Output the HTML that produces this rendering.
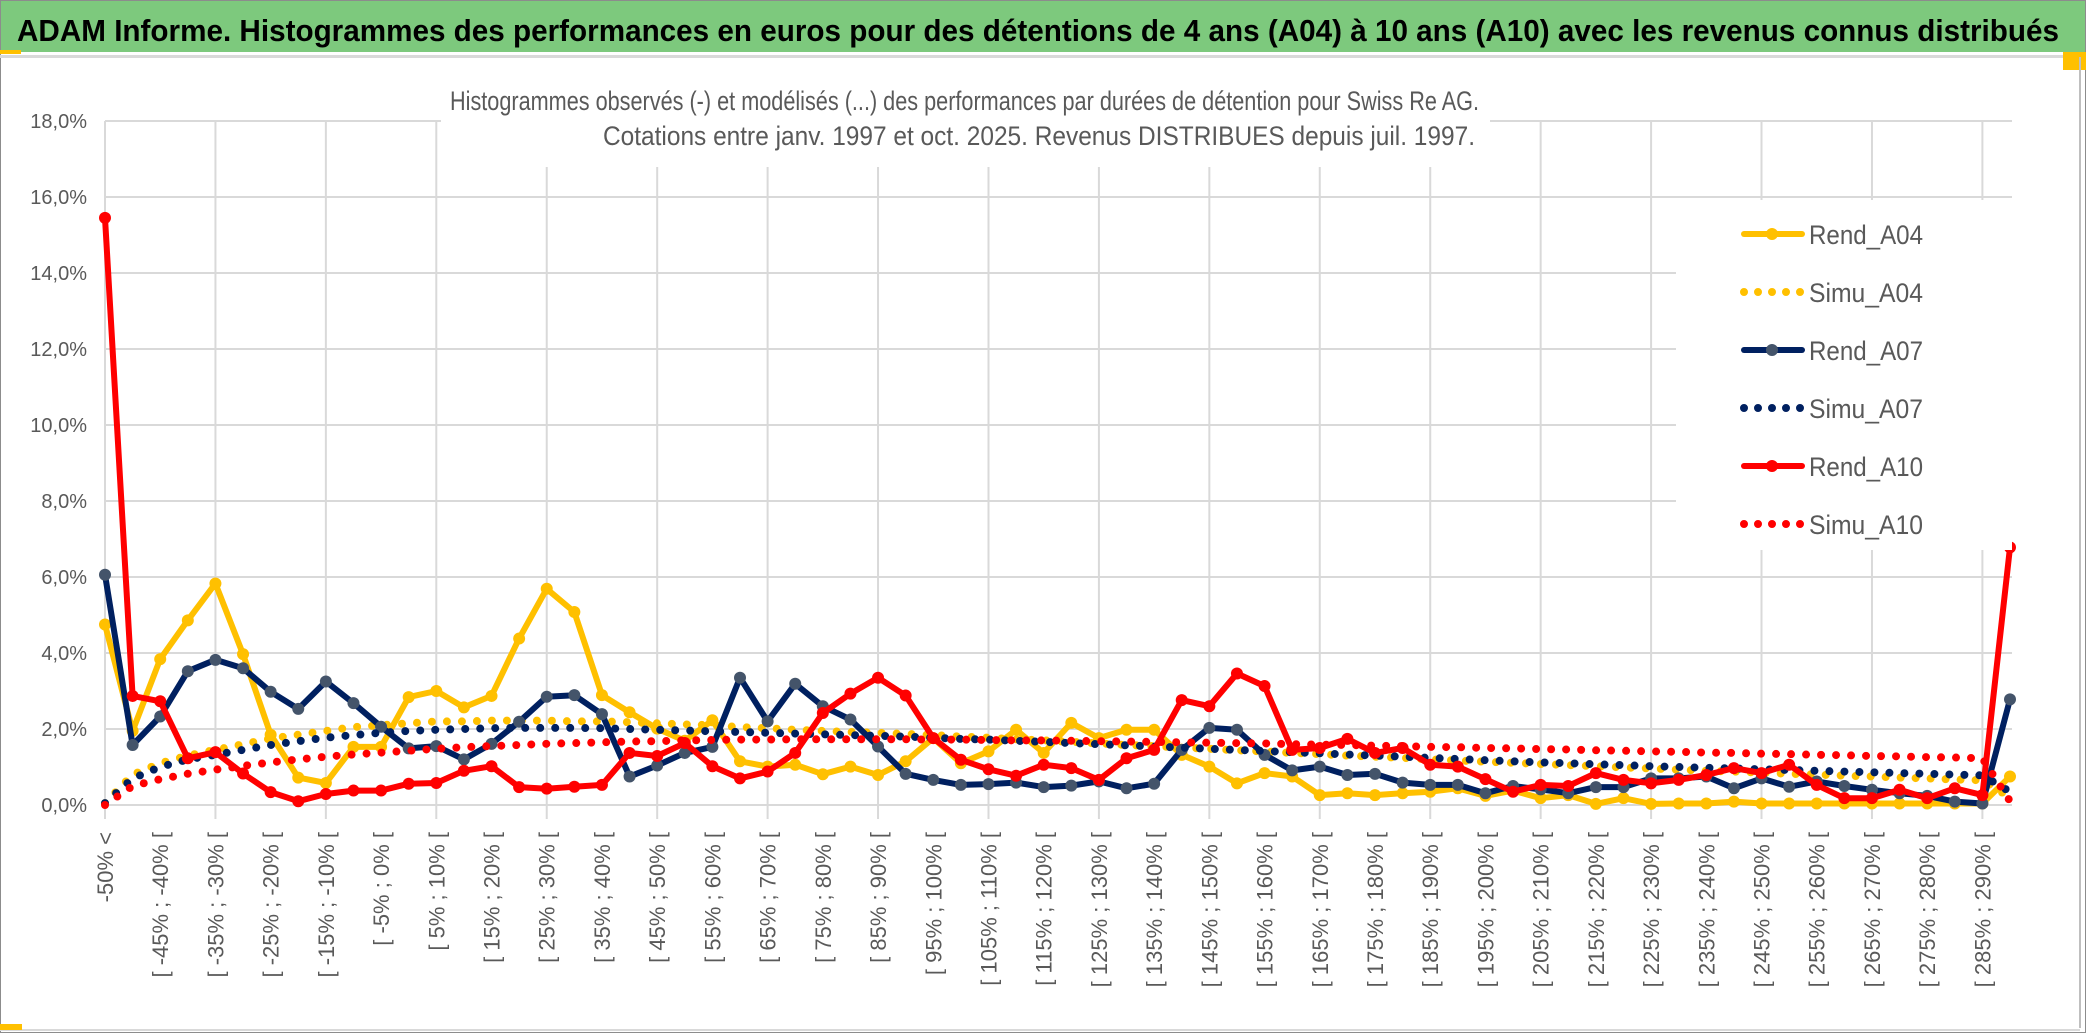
<!DOCTYPE html>
<html><head><meta charset="utf-8">
<style>
html,body{margin:0;padding:0;background:#fff;}
svg{display:block;font-family:"Liberation Sans",sans-serif;}
</style></head>
<body>
<svg id="chart" width="2086" height="1033" viewBox="0 0 2086 1033" xmlns="http://www.w3.org/2000/svg">
  <rect x="0" y="0" width="2086" height="1033" fill="#ffffff"/>
  <rect x="0.5" y="0.5" width="2085" height="1032" fill="none" stroke="#8c8c8c" stroke-width="1"/>
  <rect x="1" y="1" width="2084" height="51" fill="#7dc97d"/>
  <rect x="0" y="50" width="21" height="4" fill="#ffc000"/>
  <rect x="0" y="55" width="2080" height="3" fill="#d9d9d9"/>
  <rect x="2063" y="52" width="23" height="18" fill="#ffc000"/>
  <line x1="2080" y1="57" x2="2080" y2="1028" stroke="#bfbfbf" stroke-width="2"/>
  <line x1="0" y1="1030" x2="2080" y2="1030" stroke="#d9d9d9" stroke-width="2"/>
  <rect x="0" y="1024" width="22" height="6" fill="#ffc000"/>
  <text x="17" y="41" font-size="31" font-weight="bold" fill="#000" textLength="2042" lengthAdjust="spacingAndGlyphs">ADAM Informe. Histogrammes des performances en euros pour des détentions de 4 ans (A04) à 10 ans (A10) avec les revenus connus distribués</text>
  <g id="grid"></g>
  <rect x="441" y="80" width="1049" height="87" fill="#fff"/>
  <text x="450" y="110" font-size="27" fill="#595959" textLength="1029" lengthAdjust="spacingAndGlyphs">Histogrammes observés (-) et modélisés (...) des performances par durées de détention pour Swiss Re AG.</text>
  <text x="603" y="145" font-size="27" fill="#595959" textLength="872" lengthAdjust="spacingAndGlyphs">Cotations entre janv. 1997 et oct. 2025. Revenus DISTRIBUES depuis juil. 1997.</text>
  <g id="yaxis"></g>
  <g id="xaxis"></g>
  <g id="series"></g>
  <g id="legend"></g>
</svg>
<script>
const tickLabels = ["-50% <","[ -45% ; -40% [","[ -35% ; -30% [","[ -25% ; -20% [","[ -15% ; -10% [","[ -5% ; 0% [","[ 5% ; 10% [","[ 15% ; 20% [","[ 25% ; 30% [","[ 35% ; 40% [","[ 45% ; 50% [","[ 55% ; 60% [","[ 65% ; 70% [","[ 75% ; 80% [","[ 85% ; 90% [","[ 95% ; 100% [","[ 105% ; 110% [","[ 115% ; 120% [","[ 125% ; 130% [","[ 135% ; 140% [","[ 145% ; 150% [","[ 155% ; 160% [","[ 165% ; 170% [","[ 175% ; 180% [","[ 185% ; 190% [","[ 195% ; 200% [","[ 205% ; 210% [","[ 215% ; 220% [","[ 225% ; 230% [","[ 235% ; 240% [","[ 245% ; 250% [","[ 255% ; 260% [","[ 265% ; 270% [","[ 275% ; 280% [","[ 285% ; 290% ["];
const yTicks = [0,2,4,6,8,10,12,14,16,18];
const seriesNames = ["Rend_A04","Simu_A04","Rend_A07","Simu_A07","Rend_A10","Simu_A10"];
const rendA04 = [4.75,1.95,3.84,4.86,5.83,3.97,1.85,0.72,0.58,1.53,1.53,2.84,3.0,2.57,2.87,4.38,5.69,5.08,2.89,2.44,2.01,1.69,2.23,1.15,1.01,1.06,0.81,1.01,0.79,1.15,1.76,1.1,1.41,1.98,1.37,2.16,1.76,1.98,1.98,1.32,1.01,0.57,0.84,0.75,0.26,0.31,0.26,0.31,0.35,0.44,0.24,0.38,0.18,0.26,0.03,0.18,0.03,0.04,0.04,0.09,0.04,0.04,0.04,0.04,0.04,0.04,0.04,0.04,0.04,0.75];
const simuA04 = [0.05,0.8,1.1,1.3,1.45,1.6,1.75,1.85,1.95,2.05,2.1,2.15,2.2,2.2,2.22,2.22,2.22,2.2,2.2,2.18,2.15,2.12,2.1,2.05,2.02,1.98,1.95,1.92,1.9,1.87,1.84,1.8,1.77,1.73,1.7,1.66,1.62,1.58,1.55,1.51,1.48,1.44,1.41,1.37,1.34,1.3,1.27,1.24,1.2,1.17,1.14,1.11,1.08,1.05,1.02,0.99,0.96,0.93,0.9,0.88,0.85,0.82,0.8,0.77,0.75,0.72,0.7,0.67,0.65,0.2];
const rendA07 = [6.06,1.58,2.33,3.52,3.82,3.6,2.98,2.53,3.25,2.68,2.06,1.49,1.55,1.2,1.61,2.19,2.85,2.89,2.39,0.75,1.04,1.37,1.53,3.35,2.2,3.19,2.6,2.25,1.54,0.82,0.66,0.53,0.55,0.59,0.47,0.51,0.62,0.44,0.56,1.45,2.03,1.98,1.32,0.91,1.01,0.79,0.82,0.59,0.53,0.53,0.31,0.5,0.41,0.31,0.47,0.47,0.7,0.7,0.75,0.44,0.7,0.48,0.62,0.5,0.4,0.31,0.24,0.09,0.04,2.78];
const simuA07 = [0.05,0.7,1.0,1.2,1.32,1.45,1.58,1.68,1.77,1.84,1.9,1.95,1.98,2.0,2.02,2.03,2.03,2.03,2.02,2.0,1.98,1.96,1.94,1.92,1.9,1.88,1.86,1.84,1.82,1.8,1.77,1.74,1.72,1.69,1.66,1.63,1.6,1.57,1.54,1.51,1.48,1.45,1.42,1.39,1.36,1.33,1.3,1.27,1.24,1.21,1.18,1.15,1.12,1.1,1.07,1.05,1.02,1.0,0.98,0.96,0.94,0.92,0.9,0.88,0.86,0.84,0.82,0.8,0.78,0.35];
const rendA10 = [15.45,2.87,2.73,1.23,1.39,0.83,0.34,0.1,0.29,0.38,0.38,0.56,0.58,0.9,1.02,0.47,0.43,0.48,0.53,1.37,1.29,1.63,1.02,0.7,0.88,1.37,2.42,2.93,3.35,2.88,1.76,1.19,0.94,0.77,1.06,0.97,0.66,1.23,1.45,2.76,2.6,3.46,3.13,1.45,1.5,1.74,1.37,1.5,1.06,1.01,0.68,0.35,0.53,0.5,0.84,0.66,0.57,0.66,0.79,0.97,0.84,1.06,0.53,0.18,0.18,0.4,0.18,0.44,0.26,6.78];
const simuA10 = [0.0,0.5,0.68,0.82,0.93,1.03,1.12,1.2,1.27,1.33,1.38,1.43,1.48,1.52,1.55,1.58,1.61,1.63,1.65,1.67,1.68,1.7,1.71,1.72,1.72,1.73,1.73,1.73,1.73,1.73,1.72,1.72,1.71,1.7,1.7,1.69,1.68,1.67,1.66,1.65,1.64,1.63,1.62,1.6,1.59,1.58,1.56,1.55,1.53,1.52,1.5,1.49,1.47,1.46,1.44,1.43,1.41,1.4,1.38,1.37,1.35,1.34,1.32,1.31,1.29,1.28,1.26,1.25,1.23,0.1];

const NS = "http://www.w3.org/2000/svg";
const X0 = 105, X1 = 2010, Y0 = 805, Y18 = 121;
const nCat = rendA04.length;
function xPos(i){ return X0 + i*(X1-X0)/(nCat-1); }
function yPos(v){ return Y0 - v*(Y0-Y18)/18; }
function mk(tag, attrs, parent){ const e=document.createElementNS(NS,tag); for(const k in attrs) e.setAttribute(k,attrs[k]); parent.appendChild(e); return e; }

const grid = document.getElementById('grid');
yTicks.forEach(t=>{
  const l = mk('line',{x1:X0,x2:X1+2,y1:yPos(t),y2:yPos(t),stroke:'#d9d9d9','stroke-width':2},grid);
  
  
});
for(let i=0;i<nCat;i+=4){
  const l = mk('line',{x1:xPos(i),x2:xPos(i),y1:Y18,y2:Y0+14,stroke:'#d9d9d9','stroke-width':2},grid);
  
  
}
const ya = document.getElementById('yaxis');
yTicks.forEach(t=>{
  const tx = mk('text',{x:87,y:yPos(t)+7,'font-size':20,'text-anchor':'end',fill:'#595959'},ya);
  tx.textContent = t.toFixed(1).replace('.',',')+'%';
  
  
});
const xa = document.getElementById('xaxis');
tickLabels.forEach((lab,k)=>{
  const x = xPos(k*2)+8, y = 832;
  const tx = mk('text',{x:x,y:y,'font-size':22,'text-anchor':'end',fill:'#595959',transform:`rotate(-90 ${x} ${y})`},xa);
  tx.textContent = lab;
  
  
});
const sg = document.getElementById('series');
function pts(arr){ return arr.map((v,i)=>xPos(i).toFixed(1)+','+yPos(v).toFixed(1)).join(' '); }
function solid(arr,color,mcolor,name){
  const g = mk('g',{},sg);
  
  
  const p = mk('polyline',{points:pts(arr),fill:'none',stroke:color,'stroke-width':6,'stroke-linejoin':'round'},g);
  
  
  arr.forEach((v,i)=>{
    const c = mk('circle',{cx:xPos(i),cy:yPos(v),r:6,fill:mcolor},g);
    
    
  });
}
function dotted(arr,color,name){
  const p = mk('polyline',{points:pts(arr),fill:'none',stroke:color,'stroke-width':8,'stroke-linecap':'round','stroke-dasharray':'0 15'},sg);
  
  
}
solid(rendA04,'#ffc000','#ffc000','rend-a04');
dotted(simuA04,'#ffc000','simu-a04');
solid(rendA07,'#002060','#44546a','rend-a07');
dotted(simuA07,'#002060','simu-a07');
solid(rendA10,'#ff0000','#ff0000','rend-a10');
dotted(simuA10,'#ff0000','simu-a10');

const lg = document.getElementById('legend');
mk('rect',{x:1676,y:200,width:336,height:350,fill:'#fff'},lg);
const legY = [234,292,350,408,466,524];
const legCol = ['#ffc000','#ffc000','#002060','#002060','#ff0000','#ff0000'];
const legMk = ['#ffc000',null,'#44546a',null,'#ff0000',null];
seriesNames.forEach((n,i)=>{
  const g = mk('g',{},lg);
  
  
  const y = legY[i];
  if(legMk[i]){
    mk('line',{x1:1744,x2:1802,y1:y,y2:y,stroke:legCol[i],'stroke-width':6,'stroke-linecap':'round'},g);
    mk('circle',{cx:1772,cy:y,r:6,fill:legMk[i]},g);
  } else {
    mk('line',{x1:1744,x2:1802,y1:y,y2:y,stroke:legCol[i],'stroke-width':8,'stroke-linecap':'round','stroke-dasharray':'0 14'},g);
  }
  const t = mk('text',{x:1809,y:y+10,'font-size':27,fill:'#595959',textLength:114,lengthAdjust:'spacingAndGlyphs'},g);
  t.textContent = n;
});
</script>
</body></html>
